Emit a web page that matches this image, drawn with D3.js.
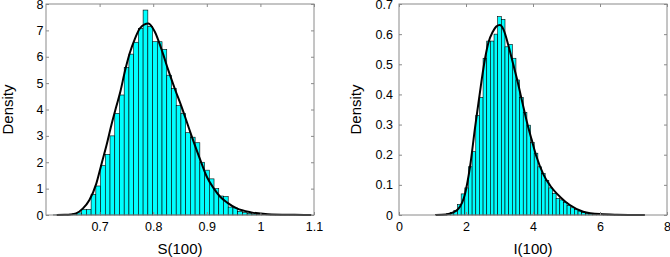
<!DOCTYPE html>
<html>
<head>
<meta charset="utf-8">
<script src="https://cdn.jsdelivr.net/npm/d3@7"></script>
<style>
  html, body { margin: 0; padding: 0; background: #fff; }
  svg { display: block; font-family: "Liberation Sans", Arial, Helvetica, sans-serif; }
</style>
</head>
<body>
<svg id="chart" width="670" height="257"></svg>
<script>
// S(100) histogram: bins of equal width starting at sBinStart
const sBinStart = 0.6136;
const sBinWidth = 0.00882;
const sDensity = [
  0.003, 0.005, 0.01, 0.02, 0.04, 0.08, 0.2, 0.21, 0.78, 1.1,
  1.87, 2.3, 3.0, 3.85, 4.55, 5.6, 6.1, 6.55, 7.07, 7.77,
  7.15, 6.57, 6.57, 6.28, 5.3, 4.8, 4.15, 3.85, 3.12, 2.95,
  2.74, 2.0, 1.7, 1.37, 1.0, 0.72, 0.7, 0.3, 0.27, 0.14,
  0.1, 0.06, 0.04, 0.03, 0.02, 0.015, 0.01, 0.008, 0.006, 0.005,
  0.004, 0.003, 0.002, 0.002
];
// fitted density for S(100): [x, density]
const sCurve = [
  [0.62, 0], [0.635, 0.008], [0.645, 0.02], [0.656, 0.06], [0.669, 0.25],
  [0.681, 0.57], [0.694, 1.2], [0.703, 1.89], [0.713, 2.65], [0.722, 3.41],
  [0.731, 4.1], [0.739, 4.7], [0.747, 5.43], [0.756, 6.12], [0.766, 6.69],
  [0.775, 7.07], [0.783, 7.22], [0.791, 7.26], [0.803, 6.95], [0.816, 6.25],
  [0.828, 5.5], [0.841, 4.75], [0.853, 4.1], [0.864, 3.45], [0.875, 2.8],
  [0.888, 2.08], [0.9, 1.45], [0.913, 1.01], [0.925, 0.69], [0.938, 0.47],
  [0.956, 0.25], [0.983, 0.1], [1.014, 0.03], [1.064, 0.008], [1.095, 0]
];
const sTicksX = [0.7, 0.8, 0.9, 1, 1.1];
const sTicksY = [0, 1, 2, 3, 4, 5, 6, 7, 8];

// I(100) histogram
const iBinStart = 1.093;
const iBinWidth = 0.109;
const iDensity = [
  0.001, 0.001, 0.002, 0.004, 0.008, 0.015, 0.035, 0.07, 0.09, 0.16,
  0.21, 0.33, 0.39, 0.52, 0.577, 0.577, 0.6, 0.658, 0.649, 0.558,
  0.566, 0.52, 0.448, 0.39, 0.34, 0.298, 0.24, 0.205, 0.16, 0.138,
  0.115, 0.09, 0.072, 0.055, 0.05, 0.042, 0.032, 0.024, 0.018, 0.013,
  0.009, 0.006, 0.004, 0.003, 0.002, 0.002, 0.001, 0.001, 0.001, 0.001,
  0.001, 0.001, 0.001, 0.001, 0.001, 0.001, 0.001
];
const iCurve = [
  [1.1, 0], [1.4, 0.002], [1.6, 0.008], [1.77, 0.02], [1.97, 0.07],
  [2.12, 0.16], [2.27, 0.29], [2.37, 0.37], [2.47, 0.45], [2.57, 0.52],
  [2.67, 0.572], [2.8, 0.608], [2.9, 0.625], [3.01, 0.63], [3.12, 0.615],
  [3.26, 0.565], [3.41, 0.5], [3.52, 0.452], [3.71, 0.36], [3.86, 0.29],
  [3.96, 0.25], [4.1, 0.195], [4.31, 0.135], [4.51, 0.098], [4.81, 0.06],
  [5.1, 0.033], [5.5, 0.011], [6.0, 0.003], [6.5, 0.001], [7.34, 0]
];
const iTicksX = [0, 2, 4, 6, 8];
const iTicksY = [0, 0.1, 0.2, 0.3, 0.4, 0.5, 0.6, 0.7];

const svg = d3.select('#chart');

function drawPanel(cfg) {
  const x = d3.scaleLinear().domain(cfg.xDomain).range([cfg.left, cfg.right]);
  const y = d3.scaleLinear().domain(cfg.yDomain).range([cfg.bottom, cfg.top]);
  const g = svg.append('g');

  const bins = cfg.density.map((d, i) => ({
    x0: cfg.binStart + i * cfg.binWidth,
    x1: cfg.binStart + (i + 1) * cfg.binWidth,
    v: d
  }));

  g.append('g')
    .selectAll('rect')
    .data(bins)
    .join('rect')
    .attr('x', (d) => x(d.x0))
    .attr('width', (d) => x(d.x1) - x(d.x0))
    .attr('y', (d) => y(d.v))
    .attr('height', (d) => y(0) - y(d.v))
    .attr('fill', '#00ffff')
    .attr('stroke', '#000')
    .attr('stroke-width', 0.6);

  const line = d3.line()
    .x((d) => x(d[0]))
    .y((d) => y(d[1]))
    .curve(d3.curveMonotoneX);

  g.append('path')
    .attr('d', line(cfg.curve))
    .attr('fill', 'none')
    .attr('stroke', '#000')
    .attr('stroke-width', 2)
    .attr('stroke-linejoin', 'round');

  // frame
  g.append('rect')
    .attr('x', cfg.left)
    .attr('y', cfg.top)
    .attr('width', cfg.right - cfg.left)
    .attr('height', cfg.bottom - cfg.top)
    .attr('fill', 'none')
    .attr('stroke', '#8a8a8a')
    .attr('stroke-width', 1);

  const axes = [
    { a: d3.axisBottom(x).tickValues(cfg.ticksX).tickFormat(d3.format('~g')).tickPadding(7.5), t: `translate(0,${cfg.bottom})` },
    { a: d3.axisTop(x).tickValues(cfg.ticksX).tickFormat(''), t: `translate(0,${cfg.top})` },
    { a: d3.axisLeft(y).tickValues(cfg.ticksY).tickFormat(d3.format('~g')).tickPadding(cfg.yPad), t: `translate(${cfg.left},0)` },
    { a: d3.axisRight(y).tickValues(cfg.ticksY).tickFormat(''), t: `translate(${cfg.right},0)` }
  ];

  axes.forEach(({ a, t }) => {
    const ax = g.append('g')
      .attr('transform', t)
      .call(a.tickSizeInner(-3).tickSizeOuter(0));
    ax.select('.domain').remove();
    ax.selectAll('line').attr('stroke', '#8a8a8a');
    ax.selectAll('text')
      .attr('fill', '#000')
      .attr('font-size', '12.5px')
      .attr('font-family', '"Liberation Sans", Arial, sans-serif');
  });

  g.append('text')
    .attr('x', (cfg.left + cfg.right) / 2)
    .attr('y', 254)
    .attr('text-anchor', 'middle')
    .attr('font-size', '15px')
    .text(cfg.xLabel);

  g.append('text')
    .attr('transform', `translate(${cfg.yLabelX},${(cfg.top + cfg.bottom) / 2}) rotate(-90)`)
    .attr('text-anchor', 'middle')
    .attr('font-size', '15px')
    .text('Density');
}

drawPanel({
  left: 46, right: 314, top: 4, bottom: 215,
  xDomain: [0.6, 1.1], yDomain: [0, 8],
  binStart: sBinStart, binWidth: sBinWidth, density: sDensity,
  curve: sCurve, ticksX: sTicksX, ticksY: sTicksY,
  yPad: 2.5, yLabelX: 12.5, xLabel: 'S(100)'
});

drawPanel({
  left: 399, right: 667, top: 4, bottom: 215,
  xDomain: [0, 8], yDomain: [0, 0.7],
  binStart: iBinStart, binWidth: iBinWidth, density: iDensity,
  curve: iCurve, ticksX: iTicksX, ticksY: iTicksY,
  yPad: 6, yLabelX: 360.5, xLabel: 'I(100)'
});
</script>
</body>
</html>
